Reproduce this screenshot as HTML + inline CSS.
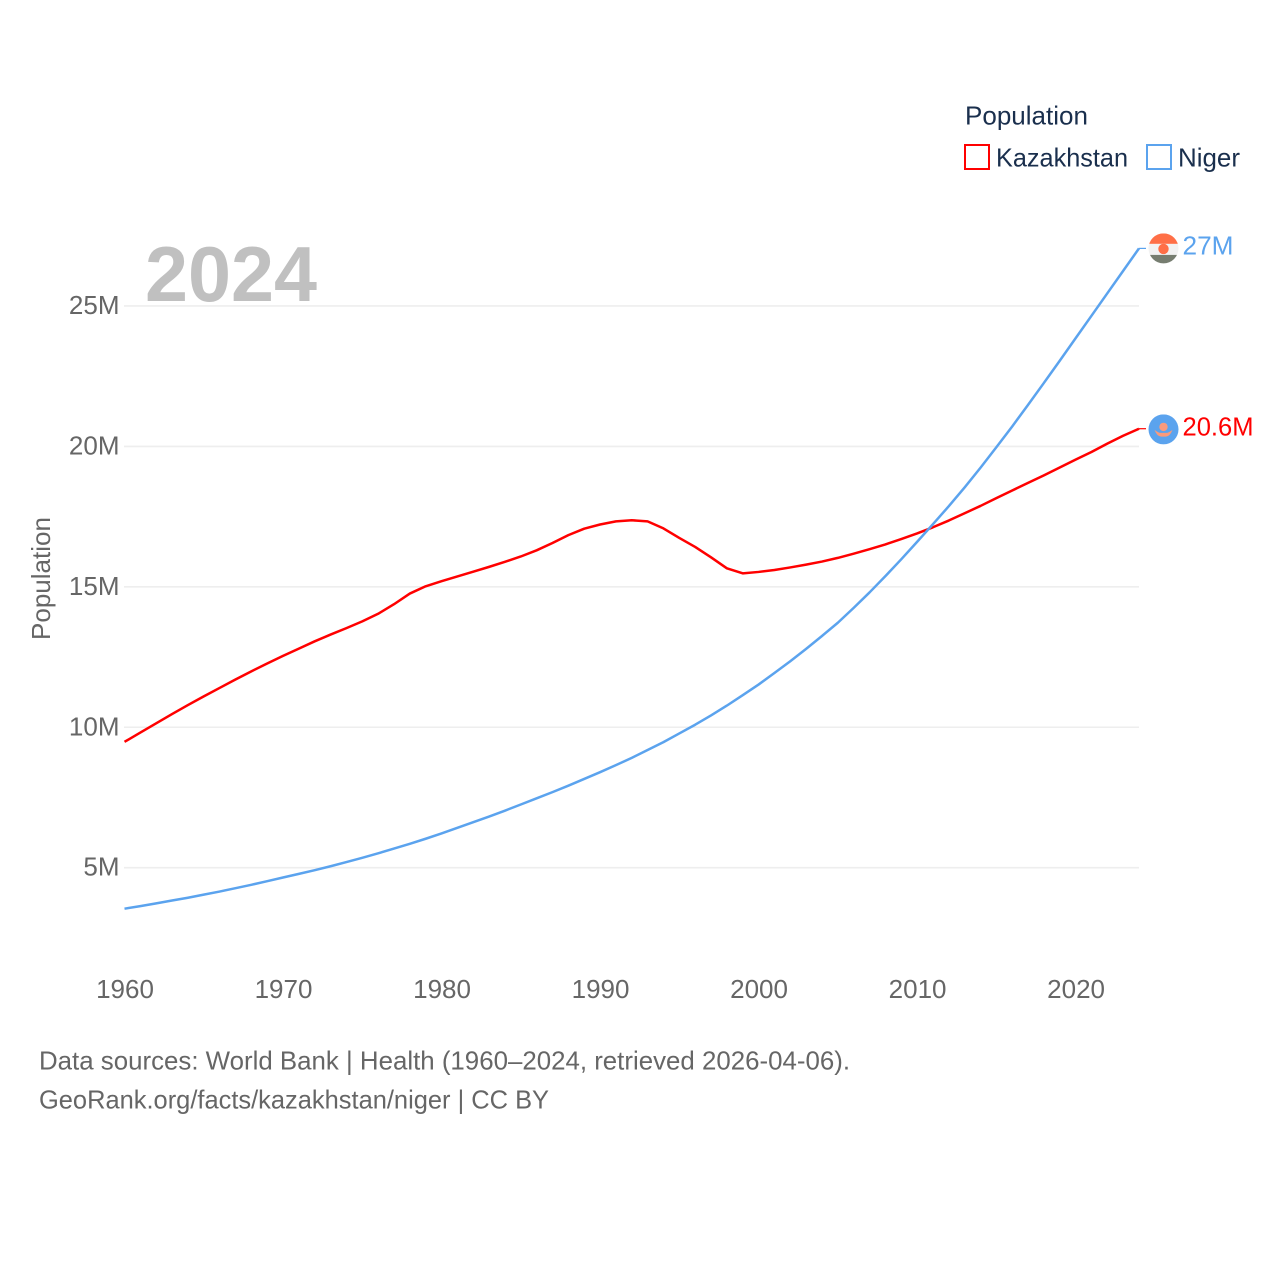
<!DOCTYPE html>
<html lang="en">
<head>
<meta charset="utf-8">
<title>Population: Kazakhstan and Niger</title>
<style>
  html, body { margin: 0; padding: 0; background: #ffffff; }
  svg { display: block; }
  text { font-family: "Liberation Sans", sans-serif; }
</style>
</head>
<body>
<svg id="chart" xmlns="http://www.w3.org/2000/svg" width="1280" height="1280" viewBox="0 0 1280 1280">
  <rect x="0" y="0" width="1280" height="1280" fill="#ffffff"/>
  <g id="grid"></g>
  <g id="yticks"></g>
  <g id="xticks"></g>
  <text x="145" y="301" font-size="78" font-weight="700" fill="#c0c0c0" textLength="172" lengthAdjust="spacingAndGlyphs">2024</text>
  <text transform="translate(50 640) rotate(-90)" font-size="26" fill="#666666" textLength="123" lengthAdjust="spacingAndGlyphs">Population</text>
  <g id="series"></g>
  <g id="endmarks"></g>

  <g>
    <text x="965" y="124.5" font-size="26" fill="#1a2f4d" textLength="123" lengthAdjust="spacingAndGlyphs">Population</text>
    <rect x="965" y="145" width="24" height="24" fill="#ffffff" stroke="#ff0000" stroke-width="2"/>
    <text x="996" y="166.5" font-size="26" fill="#1a2f4d" textLength="132" lengthAdjust="spacingAndGlyphs">Kazakhstan</text>
    <rect x="1147" y="145" width="24" height="24" fill="#ffffff" stroke="#5ba3ee" stroke-width="2"/>
    <text x="1178" y="166.5" font-size="26" fill="#1a2f4d" textLength="62" lengthAdjust="spacingAndGlyphs">Niger</text>
  </g>

  <text x="39" y="1069.5" font-size="26" fill="#666666" textLength="811" lengthAdjust="spacingAndGlyphs">Data sources: World Bank | Health (1960–2024, retrieved 2026-04-06).</text>
  <text x="39" y="1108.5" font-size="26" fill="#666666" textLength="510" lengthAdjust="spacingAndGlyphs">GeoRank.org/facts/kazakhstan/niger | CC BY</text>
</svg>

<script>
const startYear = 1960;
const kazakhstanValues = [
  9.48, 9.81, 10.14, 10.47, 10.79, 11.1, 11.4, 11.7, 11.99, 12.27,
  12.54, 12.8, 13.06, 13.3, 13.53, 13.77, 14.04, 14.38, 14.76, 15.02,
  15.2, 15.37, 15.54, 15.71, 15.89, 16.08, 16.3, 16.56, 16.84, 17.07,
  17.22, 17.33, 17.37, 17.33, 17.08, 16.74, 16.42, 16.05, 15.66, 15.48,
  15.53, 15.6, 15.69, 15.79, 15.9, 16.03, 16.18, 16.34, 16.51, 16.7,
  16.9, 17.12, 17.36, 17.62, 17.88, 18.16, 18.43, 18.7, 18.97, 19.25,
  19.53, 19.8, 20.1, 20.38, 20.63
];
const nigerValues = [
  3.54, 3.63, 3.73, 3.83, 3.93, 4.04, 4.15, 4.27, 4.39, 4.52,
  4.65, 4.78, 4.91, 5.05, 5.2, 5.35, 5.51, 5.68, 5.85, 6.03,
  6.22, 6.42, 6.62, 6.82, 7.03, 7.25, 7.47, 7.69, 7.92, 8.16,
  8.4, 8.65, 8.91, 9.19, 9.47, 9.78, 10.09, 10.42, 10.77, 11.14,
  11.52, 11.93, 12.35, 12.79, 13.25, 13.72, 14.25, 14.8, 15.38, 15.98,
  16.6, 17.23, 17.87, 18.54, 19.24, 19.97, 20.71, 21.48, 22.26, 23.05,
  23.85, 24.65, 25.45, 26.25, 27.05
];
const yTickValues = [5, 10, 15, 20, 25];
const yTickLabels = ["5M", "10M", "15M", "20M", "25M"];
const xTickValues = [1960, 1970, 1980, 1990, 2000, 2010, 2020];
const xTickLabels = ["1960", "1970", "1980", "1990", "2000", "2010", "2020"];
const endLabels = ["20.6M", "27M"];

const NS = "http://www.w3.org/2000/svg";
function xScale(year) { return 124.5 + (year - 1960) * (1139 - 124.5) / 64; }
function yScale(v) { return 1008.1 - v * 28.085; }
function make(tag, attrs, parent) {
  const el = document.createElementNS(NS, tag);
  for (const k in attrs) el.setAttribute(k, attrs[k]);
  parent.appendChild(el);
  return el;
}

const gridGroup = document.getElementById("grid");
const yTickGroup = document.getElementById("yticks");
yTickValues.forEach(function (v, i) {
  const line = make("line", { x1: 124, x2: 1139, y1: yScale(v), y2: yScale(v), stroke: "#eeeeee", "stroke-width": 1.6 }, gridGroup);
  
  
  const label = make("text", { x: 119.5, y: yScale(v) + 8, "text-anchor": "end", "font-size": 26, fill: "#666666" }, yTickGroup);
  
  
  label.textContent = yTickLabels[i];
});

const xTickGroup = document.getElementById("xticks");
xTickValues.forEach(function (yr, i) {
  const label = make("text", { x: xScale(yr) + 0.5, y: 998, "text-anchor": "middle", "font-size": 26, fill: "#666666" }, xTickGroup);
  
  
  label.textContent = xTickLabels[i];
});

function linePoints(values) {
  return values.map(function (v, i) {
    return xScale(startYear + i).toFixed(2) + "," + yScale(v).toFixed(2);
  }).join(" ");
}

const seriesGroup = document.getElementById("series");
const kazakhstanLine = make("polyline", { points: linePoints(kazakhstanValues), fill: "none", stroke: "#ff0000", "stroke-width": 2.5, "stroke-linejoin": "round" }, seriesGroup);


const nigerLine = make("polyline", { points: linePoints(nigerValues), fill: "none", stroke: "#5ba3ee", "stroke-width": 2.5, "stroke-linejoin": "round" }, seriesGroup);



const endGroup = document.getElementById("endmarks");
const lastYear = startYear + kazakhstanValues.length - 1;
const lastKazakhstanY = yScale(kazakhstanValues[kazakhstanValues.length - 1]);
const lastNigerY = yScale(nigerValues[nigerValues.length - 1]);

const kazakhstanLeader = make("line", { x1: xScale(lastYear), x2: 1146, y1: lastKazakhstanY, y2: lastKazakhstanY, stroke: "#ff0000", "stroke-width": 1.2 }, endGroup);


const nigerLeader = make("line", { x1: xScale(lastYear), x2: 1146, y1: lastNigerY, y2: lastNigerY, stroke: "#5ba3ee", "stroke-width": 1.2 }, endGroup);



const defs = make("defs", {}, endGroup);
const clip = make("clipPath", { id: "flag-clip" }, defs);
make("circle", { cx: 0, cy: 0, r: 15 }, clip);

const nigerFlag = make("g", { transform: "translate(1163.5 " + lastNigerY + ")", "clip-path": "url(#flag-clip)" }, endGroup);


make("rect", { x: -15, y: -15, width: 30, height: 10.5, fill: "#ff6f47" }, nigerFlag);
make("rect", { x: -15, y: -4.5, width: 30, height: 11, fill: "#f2f2f2" }, nigerFlag);
make("rect", { x: -15, y: 6.5, width: 30, height: 9, fill: "#767d70" }, nigerFlag);
make("circle", { cx: 0, cy: 0.5, r: 5.2, fill: "#ff6f47" }, nigerFlag);

const kazakhstanFlag = make("g", { transform: "translate(1163.5 " + (lastKazakhstanY + 0.7) + ")", "clip-path": "url(#flag-clip)" }, endGroup);


make("rect", { x: -15, y: -15, width: 30, height: 30, fill: "#5ba3ee" }, kazakhstanFlag);
make("circle", { cx: 0, cy: -2.5, r: 4.2, fill: "#fa9a7c" }, kazakhstanFlag);
make("path", { d: "M-9 0.5 Q-5 3.5 -3 3.5 L3 3.5 Q5 3.5 9 0.5 Q6.5 7 2.5 7.2 L-2.5 7.2 Q-6.5 7 -9 0.5 Z", fill: "#fa9a7c" }, kazakhstanFlag);

const kazakhstanEndLabel = make("text", { x: 1182.5, y: lastKazakhstanY + 7, "font-size": 26, fill: "#ff0000", textLength: 71, lengthAdjust: "spacingAndGlyphs" }, endGroup);


kazakhstanEndLabel.textContent = endLabels[0];
const nigerEndLabel = make("text", { x: 1182.5, y: lastNigerY + 6, "font-size": 26, fill: "#5ba3ee", textLength: 51, lengthAdjust: "spacingAndGlyphs" }, endGroup);


nigerEndLabel.textContent = endLabels[1];
</script>
</body>
</html>
